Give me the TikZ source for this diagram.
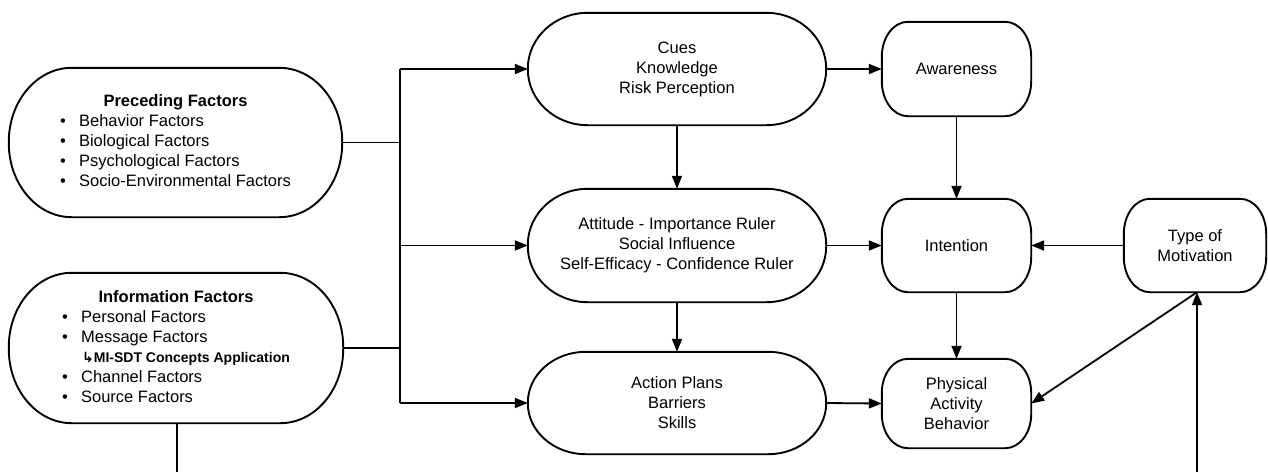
\documentclass[tikz,border=0pt]{standalone}
\usepackage{fontspec}
\setmainfont{Liberation Sans}
\newfontfamily\dejavu{DejaVu Sans}
\usetikzlibrary{arrows.meta,calc}
\newcommand\bul{\makebox[19pt][l]{\textbullet}}
\newcommand\termshape[3]{%
 \draw[boxline] ($(#1.north west)+(#2,0)$) -- ($(#1.north east)+(-#2,0)$)
  .. controls ($(#1.north east)+({-0.4477*#2},0)$) and ($(#1.north east)+(0,{-0.4477*#3})$) .. ($(#1.north east)+(0,-#3)$)
  -- ($(#1.south east)+(0,#3)$)
  .. controls ($(#1.south east)+(0,{0.4477*#3})$) and ($(#1.south east)+({-0.4477*#2},0)$) .. ($(#1.south east)+(-#2,0)$)
  -- ($(#1.south west)+(#2,0)$)
  .. controls ($(#1.south west)+({0.4477*#2},0)$) and ($(#1.south west)+(0,{0.4477*#3})$) .. ($(#1.south west)+(0,#3)$)
  -- ($(#1.north west)+(0,-#3)$)
  .. controls ($(#1.north west)+(0,{-0.4477*#3})$) and ($(#1.north west)+({0.4477*#2},0)$) .. ($(#1.north west)+(#2,0)$) -- cycle;}
\begin{document}
\begin{tikzpicture}[x=1pt,y=1pt,
  tb/.style={rectangle, inner sep=0pt, align=center, font=\fontsize{16.5}{20}\selectfont},
  boxline/.style={line width=1.9pt},
  line/.style={line width=1.8pt},
  arr/.style={line width=1.8pt,-{Triangle[length=13pt,width=10pt]}}]
\useasboundingbox (0,0) rectangle (1268,-472);

\node[tb, minimum width=333pt, minimum height=149pt] (pre) at (175.5,-142.5)
 {\begin{tabular}{@{}l@{}}\multicolumn{1}{@{}c@{}}{\bfseries Preceding Factors}\\
  \bul Behavior Factors\\ \bul Biological Factors\\ \bul Psychological Factors\\ \bul Socio-Environmental Factors\end{tabular}};
\node[tb, minimum width=334pt, minimum height=150pt] (info) at (176,-348)
 {\begin{tabular}{@{}l@{}}\multicolumn{1}{@{}c@{}}{\bfseries Information Factors}\\
  \bul Personal Factors\\ \bul Message Factors\\
  \hspace*{20pt}{\fontsize{14}{20}\selectfont\bfseries{\dejavu ↳}MI-SDT Concepts Application}\\
  \bul Channel Factors\\ \bul Source Factors\end{tabular}};

\node[tb, minimum width=298pt, minimum height=112pt] (cues) at (677,-69) {Cues\\Knowledge\\Risk Perception};
\node[tb, minimum width=298pt, minimum height=113pt] (att) at (677,-245.5) {Attitude - Importance Ruler\\Social Influence\\Self-Efficacy - Confidence Ruler};
\node[tb, minimum width=298pt, minimum height=102pt] (act) at (677,-403) {Action Plans\\Barriers\\Skills};
\node[tb, minimum width=149pt, minimum height=94pt] (awr) at (956.5,-69) {Awareness};
\node[tb, minimum width=149pt, minimum height=93pt] (intn) at (956.5,-245.5) {Intention};
\node[tb, minimum width=149pt, minimum height=89pt] (phys) at (956.5,-403.5) {Physical\\Activity\\Behavior};
\node[tb, minimum width=142pt, minimum height=93pt] (type) at (1195,-245.5) {Type of\\Motivation};

\termshape{pre}{63}{74}
\termshape{info}{63}{74}
\termshape{cues}{60}{56}
\termshape{att}{60}{56}
\termshape{act}{58}{51}
\termshape{awr}{26}{35}
\termshape{intn}{26}{35}
\termshape{phys}{26}{34}
\termshape{type}{26}{35}

\coordinate (btop) at (400,-69);
\coordinate (bbot) at (400,-403);
\coordinate (infoend) at (177,-472);
\coordinate (typeend) at (1197,-472);

\draw[line] (pre.east) -- (pre.east -| btop);
\draw[line] (info.east) -- (info.east -| btop);
\draw[line] (btop) -- (bbot);
\draw[arr] (btop) -- (cues.west);
\draw[arr] (att.west -| btop) -- (att.west);
\draw[arr] (bbot) -- (act.west);
\draw[arr] (cues.south) -- (att.north);
\draw[arr] (att.south) -- (act.north);
\draw[arr] (cues.east) -- (awr.west);
\draw[arr] (att.east) -- (intn.west);
\draw[arr] (act.east) -- (phys.west);
\draw[arr] (awr.south) -- (intn.north);
\draw[arr] (intn.south) -- (phys.north);
\draw[arr] (type.west) -- (intn.east);
\draw[line] (info.south -| infoend) -- (infoend);
\draw[arr] (typeend) -- (typeend |- type.south);
\draw[arr] (typeend |- type.south) -- (phys.east);
\end{tikzpicture}
\end{document}
